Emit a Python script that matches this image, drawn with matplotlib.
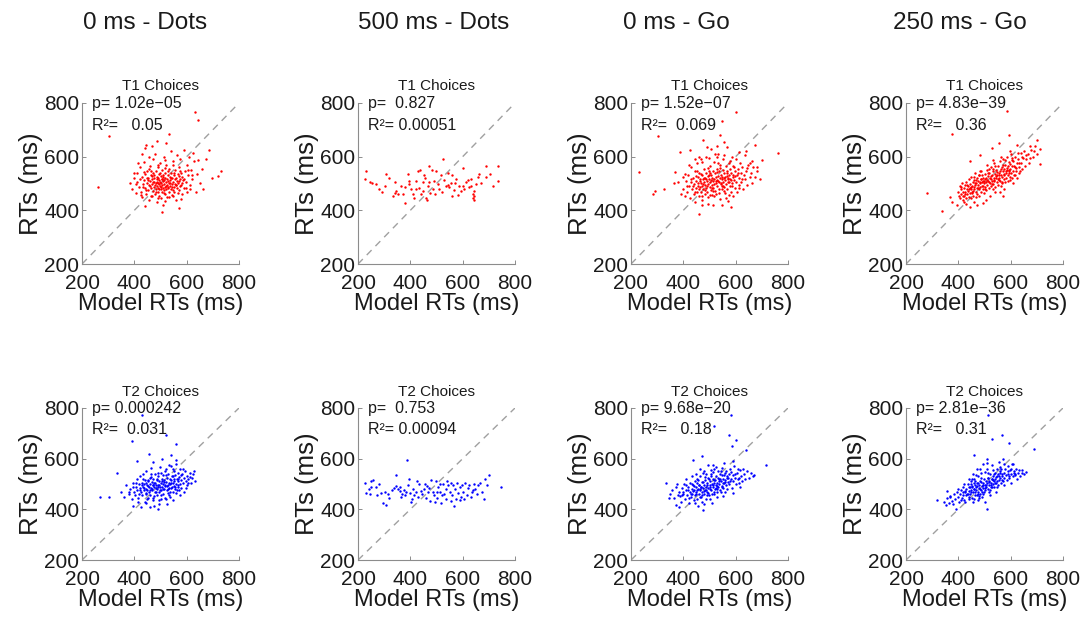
import matplotlib
matplotlib.use("Agg")
import matplotlib.pyplot as plt

plt.rcParams['font.family'] = ['Liberation Sans', 'DejaVu Sans']

# ---------------------------------------------------------------- labels
column_titles = ["0 ms - Dots", "500 ms - Dots", "0 ms - Go", "250 ms - Go"]
row_titles = ["T1 Choices", "T2 Choices"]
axis_ticks = [200, 400, 600, 800]

p_texts = [["p= 1.02e\u221205", "p=  0.827", "p= 1.52e\u221207", "p= 4.83e\u221239"],
           ["p= 0.000242", "p=  0.753", "p= 9.68e\u221220", "p= 2.81e\u221236"]]
r2_texts = [["R\u00b2=   0.05", "R\u00b2= 0.00051", "R\u00b2=  0.069", "R\u00b2=   0.36"],
            ["R\u00b2=  0.031", "R\u00b2= 0.00094", "R\u00b2=   0.18", "R\u00b2=   0.31"]]

# ---------------------------------------------------------------- data: (model RT, observed RT) in ms
t1_dots_0 = [
    (305, 676), (633, 768), (644, 735), (262, 488), (733, 545), (720, 527), (696, 520), (661, 478),
    (686, 625), (441, 415), (505, 393), (572, 410), (534, 684), (487, 660), (446, 643), (440, 632),
    (385, 500), (392, 478), (398, 520), (405, 465), (410, 540), (412, 505), (418, 488), (420, 560),
    (425, 470), (428, 525), (430, 450), (433, 498), (436, 512), (438, 580), (440, 485), (442, 535),
    (445, 462), (447, 502), (449, 548), (451, 477), (453, 520), (455, 440), (456, 495), (458, 565),
    (460, 508), (462, 482), (463, 530), (465, 455), (467, 515), (468, 498), (470, 590), (471, 472),
    (473, 540), (474, 505), (476, 488), (477, 522), (478, 460), (480, 610), (481, 500), (482, 478),
    (484, 545), (485, 515), (486, 492), (487, 430), (488, 507), (489, 560), (490, 483), (491, 520),
    (492, 470), (493, 498), (494, 535), (495, 512), (496, 455), (497, 490), (498, 575), (499, 505),
    (500, 480), (501, 527), (502, 445), (503, 500), (504, 515), (505, 470), (506, 550), (507, 493),
    (508, 508), (509, 420), (510, 485), (511, 530), (512, 600), (513, 475), (514, 512), (515, 497),
    (516, 540), (517, 462), (518, 520), (519, 488), (520, 505), (521, 570), (522, 478), (524, 515),
    (525, 450), (526, 495), (527, 532), (528, 510), (530, 482), (531, 555), (532, 500), (534, 468),
    (535, 525), (536, 490), (538, 512), (539, 620), (540, 478), (541, 540), (543, 498), (544, 458),
    (545, 522), (547, 505), (548, 585), (550, 488), (551, 530), (553, 470), (554, 515), (556, 550),
    (558, 495), (559, 440), (561, 520), (563, 605), (564, 482), (566, 535), (568, 500), (570, 560),
    (572, 475), (574, 518), (576, 590), (578, 495), (580, 540), (583, 460), (585, 512), (588, 625),
    (590, 485), (593, 545), (596, 505), (600, 570), (603, 470), (606, 530), (610, 600), (614, 495),
    (618, 550), (622, 515), (628, 585), (634, 470), (640, 535), (650, 500), (660, 555), (672, 590),
    (468, 640), (520, 650), (455, 600), (430, 610), (415, 575),
    (452, 512), (466, 528), (479, 495), (493, 481), (507, 517), (521, 492), (537, 503), (549, 476),
    (562, 508), (574, 492), (458, 489), (471, 506), (486, 524), (498, 539), (512, 466), (527, 486),
    (541, 519), (555, 497), (569, 527), (583, 503), (447, 520), (463, 545), (483, 470), (503, 487),
    (519, 556), (534, 451), (552, 538), (566, 466), (581, 525), (597, 482), (432, 488), (446, 474),
    (475, 533), (492, 503), (509, 526), (529, 545), (544, 487), (560, 495), (575, 545), (591, 517),
    (423, 515), (437, 541), (456, 553), (491, 568), (516, 589), (546, 568), (571, 508), (604, 549),
    (619, 530), (611, 481), (466, 452), (489, 447), (519, 436), (548, 455), (579, 441), (426, 459),
    (405, 498), (398, 540), (625, 612), (642, 588),
]

t1_dots_500 = [
    (232, 545), (225, 515), (244, 505), (267, 499), (282, 479), (308, 535), (305, 492), (343, 505),
    (346, 472), (352, 462), (340, 466), (365, 492), (371, 462), (378, 427), (381, 486), (390, 535),
    (394, 499), (403, 479), (409, 460), (415, 446), (422, 509), (428, 545), (432, 483), (437, 552),
    (441, 460), (447, 473), (450, 505), (454, 532), (460, 446), (463, 440), (466, 492), (470, 567),
    (473, 505), (475, 466), (482, 552), (485, 479), (489, 509), (498, 545), (505, 499), (511, 479),
    (517, 532), (526, 593), (530, 512), (536, 492), (543, 538), (545, 496), (549, 488), (555, 501),
    (559, 453), (568, 475), (574, 518), (581, 456), (587, 492), (593, 473), (600, 558), (606, 479),
    (612, 505), (619, 512), (623, 486), (632, 492), (638, 460), (641, 446), (642, 437), (643, 473),
    (645, 453), (650, 499), (657, 525), (661, 535), (689, 525), (691, 565), (736, 567), (736, 509),
    (255, 500), (290, 470), (320, 520), (335, 455), (395, 510), (420, 480), (455, 520), (495, 460),
    (520, 470), (560, 530), (570, 500), (600, 490), (630, 515), (670, 500), (705, 535), (715, 490),
]

t1_go_0 = [
    (232, 543), (302, 676), (603, 767), (546, 732), (540, 682), (762, 612), (284, 462), (293, 473),
    (327, 479), (365, 501), (369, 541), (388, 617), (397, 525), (426, 623), (477, 663), (489, 636),
    (521, 610), (557, 656), (565, 636), (612, 617), (654, 577), (673, 643), (692, 518), (701, 588),
    (581, 414), (546, 420), (458, 387), (515, 420),
    (400, 480), (405, 455), (410, 510), (415, 470), (418, 530), (422, 492), (425, 445), (428, 505),
    (431, 560), (434, 478), (436, 520), (439, 462), (441, 498), (443, 545), (445, 430), (447, 510),
    (449, 485), (451, 575), (453, 468), (455, 525), (457, 500), (459, 452), (461, 540), (462, 488),
    (464, 515), (466, 470), (467, 590), (469, 503), (470, 440), (472, 530), (473, 492), (475, 515),
    (476, 478), (478, 555), (479, 505), (481, 462), (482, 522), (484, 495), (485, 600), (487, 482),
    (488, 538), (490, 510), (491, 470), (493, 527), (494, 498), (496, 448), (497, 545), (499, 515),
    (500, 488), (502, 565), (503, 505), (505, 475), (506, 532), (508, 495), (509, 520), (511, 458),
    (512, 548), (514, 508), (515, 485), (517, 580), (518, 515), (520, 472), (521, 538), (523, 500),
    (524, 525), (526, 462), (527, 555), (529, 512), (530, 490), (532, 610), (533, 528), (535, 480),
    (536, 545), (538, 505), (539, 520), (541, 442), (542, 570), (544, 498), (545, 532), (547, 515),
    (548, 478), (550, 550), (551, 505), (553, 590), (554, 522), (556, 488), (557, 540), (559, 465),
    (560, 512), (562, 565), (563, 498), (565, 528), (566, 480), (568, 548), (569, 515), (571, 435),
    (572, 505), (574, 575), (575, 530), (577, 490), (578, 555), (580, 518), (582, 470), (583, 540),
    (585, 600), (587, 500), (588, 525), (590, 455), (592, 560), (594, 512), (596, 485), (598, 545),
    (600, 590), (602, 505), (604, 530), (607, 470), (609, 555), (611, 520), (614, 495), (616, 575),
    (619, 540), (622, 505), (625, 560), (628, 480), (631, 530), (634, 605), (637, 515), (641, 545),
    (645, 495), (649, 570), (653, 525), (658, 540), (663, 500), (668, 560), (675, 525), (683, 545),
    (460, 600), (445, 590), (420, 570), (380, 505), (390, 460), (505, 630), (530, 640), (470, 420),
    (495, 425),
    (463, 508), (478, 521), (492, 489), (506, 514), (519, 497), (534, 511), (547, 491), (561, 526),
    (576, 507), (589, 533), (455, 492), (469, 537), (484, 476), (498, 530), (513, 471), (528, 544),
    (543, 503), (557, 473), (571, 522), (585, 489), (447, 527), (461, 479), (476, 498), (493, 558),
    (508, 482), (524, 508), (539, 559), (553, 492), (567, 538), (582, 512), (438, 490), (452, 548),
    (488, 518), (503, 540), (518, 453), (533, 575), (549, 525), (564, 445), (579, 582), (596, 528),
    (428, 518), (443, 467), (472, 580), (498, 595), (527, 600), (556, 608), (588, 566), (609, 538),
    (626, 517), (644, 558), (472, 455), (501, 458), (536, 466), (574, 457), (612, 482), (415, 492),
    (407, 535), (664, 585), (680, 560), (638, 620),
]

t1_go_250 = [
    (279, 463), (337, 398), (375, 685), (586, 771), (592, 680), (713, 574), (713, 628), (700, 663),
    (673, 638), (624, 643), (554, 650), (528, 634), (484, 608), (445, 582), (369, 448), (375, 432),
    (394, 419), (445, 412), (471, 419), (496, 426), (522, 452), (570, 452),
    (400, 470), (403, 455), (406, 490), (408, 445), (410, 478), (412, 462), (414, 500), (416, 440),
    (418, 470), (420, 485), (422, 455), (424, 495), (426, 468), (428, 445), (430, 505), (432, 478),
    (434, 460), (436, 490), (438, 472), (440, 515), (441, 450), (443, 485), (445, 498), (446, 465),
    (448, 480), (450, 525), (451, 492), (453, 470), (455, 505), (456, 455), (458, 488), (460, 512),
    (461, 478), (463, 495), (465, 540), (466, 468), (468, 502), (470, 485), (471, 520), (473, 460),
    (475, 495), (476, 510), (478, 478), (480, 530), (481, 500), (483, 488), (485, 515), (486, 470),
    (488, 545), (490, 505), (491, 492), (493, 522), (495, 480), (496, 510), (498, 500), (500, 535),
    (501, 488), (503, 518), (505, 505), (506, 475), (508, 550), (510, 512), (511, 495), (513, 528),
    (515, 508), (516, 485), (518, 540), (520, 520), (521, 500), (523, 560), (525, 515), (526, 492),
    (528, 530), (530, 510), (531, 545), (533, 498), (535, 522), (536, 575), (538, 508), (540, 535),
    (541, 488), (543, 520), (545, 550), (546, 505), (548, 530), (550, 515), (551, 565), (553, 495),
    (555, 540), (556, 522), (558, 585), (560, 510), (561, 548), (563, 530), (565, 500), (566, 560),
    (568, 525), (570, 545), (571, 590), (573, 515), (575, 535), (576, 555), (578, 505), (580, 570),
    (581, 540), (583, 520), (585, 600), (586, 550), (588, 530), (590, 565), (591, 510), (593, 545),
    (595, 580), (596, 525), (598, 555), (600, 540), (602, 610), (604, 520), (606, 565), (608, 545),
    (610, 585), (613, 530), (615, 560), (618, 600), (620, 545), (623, 575), (626, 520), (629, 590),
    (632, 560), (635, 545), (638, 615), (641, 575), (645, 555), (648, 595), (652, 620), (655, 565),
    (660, 590), (665, 610), (670, 575), (678, 625), (685, 600), (692, 640), (700, 610), (420, 430),
    (430, 425), (460, 430), (505, 440), (540, 470), (575, 480), (610, 500), (560, 470), (450, 445),
    (480, 455),
    (447, 488), (462, 501), (474, 482), (487, 515), (499, 508), (512, 538), (524, 529), (537, 512),
    (549, 541), (562, 553), (574, 532), (587, 558), (599, 571), (612, 565), (457, 472), (469, 512),
    (482, 507), (494, 489), (507, 522), (519, 505), (532, 553), (544, 527), (557, 514), (569, 568),
    (582, 545), (594, 538), (607, 588), (619, 558), (439, 480), (452, 463), (478, 533), (491, 532),
    (503, 479), (516, 553), (529, 497), (542, 566), (554, 532), (567, 505), (579, 589), (592, 552),
    (604, 595), (616, 532), (631, 578), (644, 598), (427, 462), (433, 493), (458, 525), (484, 548),
    (511, 568), (534, 588), (563, 598), (597, 622), (627, 612), (658, 605), (466, 450), (498, 465),
    (531, 478), (562, 490), (596, 512), (630, 540), (675, 595), (690, 620), (418, 455), (411, 488),
]

t2_dots_0 = [
    (429, 771), (392, 668), (522, 692), (333, 545), (302, 449), (267, 449), (560, 658), (628, 550),
    (457, 620), (505, 600), (540, 615), (410, 590),
    (350, 470), (360, 450), (370, 495), (378, 462), (385, 480), (390, 440), (395, 505), (400, 470),
    (403, 455), (406, 490), (409, 520), (412, 475), (414, 445), (416, 500), (418, 462), (420, 530),
    (422, 485), (424, 410), (426, 470), (428, 505), (430, 455), (432, 490), (434, 540), (436, 475),
    (438, 500), (440, 430), (441, 515), (443, 482), (445, 465), (446, 550), (448, 495), (450, 478),
    (451, 445), (453, 510), (455, 488), (456, 470), (458, 525), (460, 500), (461, 455), (463, 485),
    (465, 565), (466, 508), (468, 475), (470, 495), (471, 435), (473, 520), (475, 490), (476, 505),
    (478, 468), (480, 540), (481, 485), (483, 498), (485, 455), (486, 515), (488, 480), (490, 530),
    (491, 495), (493, 470), (495, 510), (496, 420), (498, 488), (500, 545), (501, 502), (503, 475),
    (505, 520), (506, 490), (508, 460), (510, 535), (511, 500), (513, 482), (515, 515), (516, 445),
    (518, 495), (520, 560), (521, 508), (523, 478), (525, 525), (526, 492), (528, 465), (530, 540),
    (531, 505), (533, 485), (535, 520), (536, 450), (538, 500), (540, 570), (541, 515), (543, 488),
    (545, 530), (546, 470), (548, 505), (550, 550), (551, 492), (553, 518), (555, 480), (556, 535),
    (558, 500), (560, 580), (561, 465), (563, 520), (565, 495), (566, 545), (568, 510), (570, 478),
    (572, 528), (574, 500), (576, 560), (578, 515), (580, 485), (583, 540), (585, 505), (588, 525),
    (590, 470), (593, 550), (596, 510), (600, 530), (603, 495), (607, 520), (612, 545), (617, 505),
    (622, 525), (630, 510), (415, 430), (445, 425), (475, 415), (500, 440), (525, 420), (460, 410),
    (490, 400), (395, 415),
    (452, 492), (467, 482), (479, 503), (492, 488), (504, 511), (517, 493), (529, 481), (542, 502),
    (556, 489), (568, 521), (446, 505), (459, 478), (473, 497), (487, 521), (499, 476), (513, 507),
    (527, 498), (539, 485), (552, 512), (566, 488), (438, 486), (451, 514), (465, 529), (482, 467),
    (496, 496), (509, 479), (522, 534), (536, 470), (549, 532), (563, 476), (429, 498), (444, 462),
    (462, 540), (477, 451), (489, 544), (503, 458), (518, 552), (533, 455), (547, 558), (577, 535),
    (421, 478), (433, 518), (472, 585), (498, 568), (532, 575), (558, 596), (586, 560), (605, 505),
    (614, 528), (625, 540), (448, 442), (471, 445), (496, 437), (522, 442), (546, 438), (573, 455),
    (596, 485), (407, 505), (395, 488), (380, 470),
]

t2_dots_500 = [
    (225, 503), (232, 463), (242, 479), (251, 510), (257, 516), (244, 461), (267, 490), (272, 457),
    (289, 466), (295, 424), (308, 418), (302, 470), (314, 460), (336, 484), (346, 537), (346, 491),
    (352, 480), (359, 471), (362, 488), (388, 593), (370, 462), (375, 475), (380, 455), (385, 470),
    (392, 498), (398, 465), (402, 430), (405, 442), (410, 480), (415, 455), (420, 468), (428, 450),
    (435, 500), (440, 472), (445, 460), (452, 480), (458, 445), (462, 492), (468, 470), (475, 432),
    (480, 515), (485, 470), (490, 458), (495, 430), (498, 512), (503, 445), (507, 490), (512, 470),
    (516, 425), (520, 455), (525, 500), (530, 462), (535, 480), (540, 510), (545, 495), (550, 470),
    (555, 432), (560, 455), (562, 498), (568, 415), (572, 480), (576, 440), (580, 505), (584, 465),
    (588, 490), (592, 450), (596, 495), (600, 470), (605, 440), (610, 505), (615, 455), (620, 485),
    (625, 498), (630, 448), (636, 470), (642, 500), (648, 480), (655, 462), (660, 495), (668, 505),
    (675, 470), (680, 440), (685, 520), (692, 495), (700, 535), (745, 490), (250, 490), (280, 500),
    (320, 445), (330, 475), (365, 450), (395, 520), (425, 510), (455, 500), (470, 485), (500, 470),
    (515, 500), (535, 440), (555, 505), (590, 435), (640, 475),
]

t2_go_0 = [
    (583, 774), (519, 728), (574, 695), (602, 675), (586, 649), (641, 635), (590, 589), (717, 576),
    (666, 530), (334, 503), (347, 444), (372, 418), (385, 411), (475, 398), (551, 451), (590, 464),
    (615, 490), (472, 609), (513, 576), (436, 596),
    (350, 460), (358, 475), (365, 445), (372, 490), (378, 455), (384, 470), (390, 430), (395, 485),
    (400, 460), (404, 500), (408, 440), (412, 475), (415, 455), (418, 490), (421, 425), (424, 470),
    (427, 505), (430, 448), (432, 480), (435, 462), (437, 495), (440, 435), (442, 475), (444, 510),
    (446, 455), (448, 488), (450, 468), (452, 520), (454, 440), (456, 482), (458, 498), (460, 460),
    (462, 530), (464, 475), (466, 490), (468, 450), (470, 508), (472, 470), (474, 485), (476, 545),
    (478, 460), (480, 498), (482, 478), (484, 515), (486, 440), (488, 490), (490, 505), (492, 470),
    (494, 525), (496, 485), (498, 455), (500, 510), (502, 495), (504, 475), (506, 540), (508, 500),
    (510, 462), (512, 520), (514, 488), (516, 505), (518, 560), (520, 480), (522, 515), (524, 495),
    (526, 530), (528, 470), (530, 505), (532, 550), (534, 488), (536, 520), (538, 500), (540, 478),
    (542, 540), (544, 510), (546, 492), (548, 565), (550, 520), (552, 485), (554, 505), (556, 535),
    (558, 470), (560, 515), (562, 495), (564, 550), (566, 525), (568, 480), (570, 508), (573, 540),
    (576, 500), (579, 560), (582, 520), (585, 485), (588, 535), (591, 510), (594, 570), (597, 525),
    (600, 500), (604, 545), (608, 520), (612, 505), (616, 555), (620, 530), (625, 510), (630, 540),
    (636, 520), (642, 550), (650, 525), (658, 545), (420, 445), (445, 425), (470, 430), (500, 440),
    (530, 450), (455, 415), (510, 425), (480, 420), (395, 455), (375, 500), (410, 520), (435, 530),
    (465, 560), (495, 575), (505, 555),
    (452, 478), (466, 489), (479, 472), (491, 497), (503, 488), (516, 514), (528, 493), (541, 521),
    (553, 502), (566, 530), (447, 462), (460, 495), (474, 509), (487, 476), (499, 521), (512, 496),
    (524, 483), (537, 511), (549, 534), (561, 508), (438, 473), (451, 505), (465, 482), (481, 527),
    (494, 463), (507, 532), (519, 470), (533, 525), (546, 487), (559, 545), (428, 462), (441, 492),
    (457, 516), (470, 458), (485, 538), (501, 482), (514, 549), (529, 482), (543, 553), (571, 522),
    (418, 478), (432, 501), (462, 447), (489, 455), (517, 462), (545, 470), (577, 512), (598, 540),
    (611, 525), (627, 560), (412, 498), (398, 470), (386, 452), (447, 540), (478, 552), (526, 568),
    (556, 582), (582, 548), (610, 560), (670, 535),
]

t2_go_250 = [
    (515, 774), (567, 695), (528, 676), (592, 663), (688, 637), (458, 615), (356, 474), (369, 454),
    (381, 421), (390, 402), (509, 402), (618, 539), (624, 519), (643, 545), (320, 435),
    (345, 430), (352, 418), (358, 445), (364, 425), (370, 450), (376, 432), (382, 460), (388, 440),
    (394, 470), (398, 448), (402, 428), (406, 462), (410, 478), (413, 445), (416, 458), (419, 490),
    (422, 438), (425, 470), (428, 455), (431, 482), (434, 462), (437, 500), (440, 448), (442, 472),
    (444, 488), (446, 460), (448, 510), (450, 475), (452, 445), (454, 492), (456, 468), (458, 482),
    (460, 520), (462, 458), (464, 498), (466, 476), (468, 488), (470, 455), (472, 505), (474, 470),
    (476, 530), (478, 485), (480, 495), (482, 462), (484, 510), (486, 478), (488, 545), (490, 492),
    (492, 470), (494, 505), (496, 485), (498, 520), (500, 498), (502, 475), (504, 512), (506, 490),
    (508, 560), (510, 505), (512, 482), (514, 525), (516, 498), (518, 512), (520, 475), (522, 540),
    (524, 505), (526, 490), (528, 520), (530, 575), (532, 500), (534, 530), (536, 512), (538, 488),
    (540, 545), (542, 520), (544, 505), (546, 560), (548, 530), (550, 498), (552, 540), (554, 515),
    (556, 585), (558, 525), (560, 545), (562, 505), (564, 560), (566, 530), (568, 515), (570, 600),
    (573, 545), (576, 525), (579, 560), (582, 535), (585, 515), (588, 570), (591, 540), (594, 525),
    (597, 555), (600, 540), (604, 580), (608, 530), (612, 550), (617, 535), (622, 560), (628, 545),
    (635, 530), (642, 555), (650, 540), (440, 520), (455, 540), (470, 560), (495, 580), (510, 600),
    (420, 500), (400, 480), (460, 440), (490, 450), (520, 455), (545, 470), (575, 495), (600, 505),
    (500, 430), (475, 435),
    (447, 468), (459, 482), (471, 491), (483, 479), (495, 498), (507, 495), (519, 508), (531, 517),
    (543, 527), (555, 533), (452, 489), (464, 470), (476, 502), (488, 508), (500, 485), (512, 522),
    (524, 497), (536, 538), (548, 512), (561, 552), (437, 459), (449, 501), (462, 512), (474, 461),
    (487, 525), (499, 470), (513, 545), (527, 520), (540, 505), (567, 541), (427, 472), (439, 442),
    (453, 520), (467, 535), (479, 452), (503, 548), (519, 468), (547, 490), (573, 578), (588, 552),
    (416, 468), (409, 437), (426, 428), (439, 488), (461, 505), (484, 560), (509, 582), (531, 555),
    (558, 568), (602, 558), (613, 545), (632, 555), (571, 510), (593, 530), (480, 445), (455, 430),
    (495, 462), (530, 490), (610, 580), (660, 548),
]

panels = [[t1_dots_0, t1_dots_500, t1_go_0, t1_go_250],
          [t2_dots_0, t2_dots_500, t2_go_0, t2_go_250]]
row_colors = ["#ff0000", "#0000ff"]

# ---------------------------------------------------------------- layout (pixels)
W, H = 1088, 617
col_left = [82, 358, 631, 906]
col_width = 157
row_top = [103, 408]
row_bottom = [264, 560]
col_title_x = [145, 434, 676, 960]

fig = plt.figure(figsize=(W / 100, H / 100), dpi=100)
fig.patch.set_facecolor("white")

axis_grey = "#8c8c8c"
text_col = "#1a1a1a"

for r in range(2):
    for c in range(4):
        left = col_left[c] / W
        bottom = 1 - row_bottom[r] / H
        height = (row_bottom[r] - row_top[r]) / H
        ax = fig.add_axes([left, bottom, col_width / W, height])
        pts = panels[r][c]
        xs = [p[0] for p in pts]
        ys = [p[1] for p in pts]
        ax.plot([200, 800], [200, 800], linestyle=(0, (5, 4)), color="#a0a0a0", lw=1.0, zorder=1)
        ax.scatter(xs, ys, s=3, color=row_colors[r], linewidths=0, zorder=2)
        ax.set_xlim(200, 800)
        ax.set_ylim(200, 800)
        ax.set_xticks(axis_ticks)
        ax.set_yticks(axis_ticks)
        for side in ("top", "right"):
            ax.spines[side].set_visible(False)
        for side in ("left", "bottom"):
            ax.spines[side].set_color(axis_grey)
            ax.spines[side].set_linewidth(0.8)
        ax.tick_params(direction="in", length=3, width=0.7, color=axis_grey,
                       labelsize=15, labelcolor=text_col)
        ax.tick_params(axis="x", pad=7)
        ax.tick_params(axis="y", pad=2)
        ax.set_xlabel("Model RTs (ms)", fontsize=17, color=text_col, labelpad=0)
        ax.set_ylabel("RTs (ms)", fontsize=18.5, color=text_col, labelpad=1)
        ax.set_title(row_titles[r], fontsize=11, color=text_col, pad=9)
        ax.text(240, 797, p_texts[r][c], fontsize=11.5, color=text_col, va="center", ha="left")
        ax.text(240, 717, r2_texts[r][c], fontsize=11.5, color=text_col, va="center", ha="left")
        ax.set_facecolor("white")

for c in range(4):
    fig.text(col_title_x[c] / W, 1 - 23 / H, column_titles[c], fontsize=17.5,
             color=text_col, ha="center", va="center")

fig.savefig("out.png", dpi=100, facecolor="white")
